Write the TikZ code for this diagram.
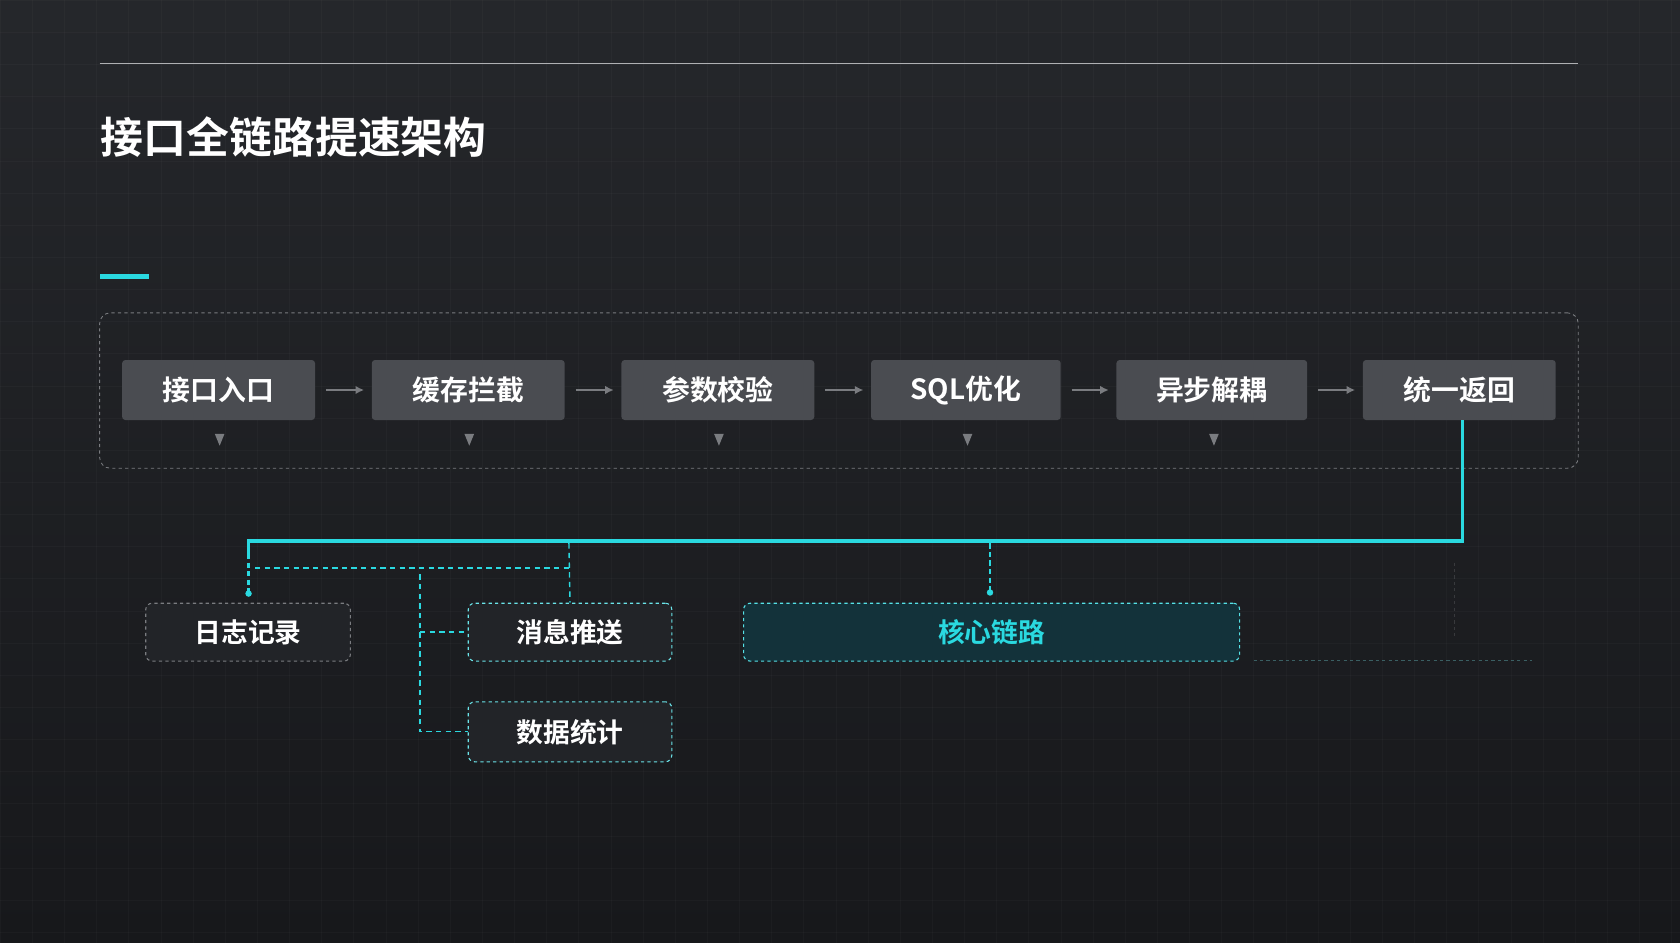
\documentclass[tikz,border=0pt]{standalone}
\usepackage{fontspec}
\setmainfont{Noto Sans CJK SC}[BoldFont={* Bold}]
\newfontfamily\cjkb{Noto Sans CJK SC Bold}
\usetikzlibrary{arrows.meta}
\definecolor{bgA}{HTML}{25272B}
\definecolor{bgB}{HTML}{17181B}
\definecolor{boxc}{HTML}{4A4C51}
\definecolor{cy}{HTML}{2AD9E0}
\definecolor{gl}{HTML}{7A7C80}
\definecolor{teal}{HTML}{13323A}
\begin{document}
\begin{tikzpicture}[x=1pt,y=-1pt,
  stepbox/.style={draw=none,fill=boxc,rounded corners=3pt,minimum width=180pt,minimum height=56pt,text=white,font=\cjkb\fontsize{26}{26}\selectfont,inner sep=0pt},
  garr/.style={draw=gl,line width=2.2pt,-{Latex[length=8pt,width=8pt]}},
  tri/.style={fill=gl,draw=none},
  sub/.style={rounded corners=6pt,dashed,line width=1pt,minimum height=54pt,text=white,font=\cjkb\fontsize{25}{25}\selectfont,inner sep=0pt,fill=bgA!80!bgB},
  cl/.style={cy,line width=1.3pt,dash pattern=on 5pt off 4pt}]
\useasboundingbox (0,0) rectangle (1568,880);
\shade[top color=bgA,bottom color=bgB] (0,0) rectangle (1568,880);
\foreach \x in {0,30,...,1568} \draw[white,opacity=0.025] (\x,0) -- (\x,880);
\foreach \y in {0,30,...,880} \draw[white,opacity=0.025] (0,\y) -- (1568,\y);
\coordinate (tl1) at (93,59); \coordinate (tl2) at (1473,59);
\draw[gl!60,line width=0.8pt] (tl1) -- (tl2);
\node[anchor=west,text=white,font=\cjkb\fontsize{40}{40}\selectfont,inner sep=0pt] (title) at (94,128) {接口全链路提速架构};
\fill[cy] (93,256) rectangle (139,260);
\node[draw=gl,dashed,rounded corners=10pt,minimum width=1380pt,minimum height=145pt,line width=0.8pt] (frame) at (783,364.5) {};
\node[stepbox] (s1) at (204,364) {接口入口};
\node[stepbox] (s2) at (437,364) {缓存拦截};
\node[stepbox] (s3) at (670,364) {参数校验};
\node[stepbox,minimum width=177pt] (s4) at (901.5,364) {SQL优化};
\node[stepbox,minimum width=178pt] (s5) at (1131,364) {异步解耦};
\node[stepbox] (s6) at (1362,364) {统一返回};
\foreach \a/\b in {s1/s2,s2/s3,s3/s4,s4/s5,s5/s6} \draw[garr] ([xshift=10pt]\a.east) -- ([xshift=-7pt]\b.west);
\foreach \x in {205,438,671,903,1133} \fill[tri] (\x-4.5,405) -- (\x+4.5,405) -- (\x,416) -- cycle;
\node[sub,draw=gl,minimum width=191pt] (log) at (231.5,590) {日志记录};
\node[sub,draw=cy!70,minimum width=190pt] (msg) at (532,590) {消息推送};
\node[sub,draw=cy!70,minimum width=190pt,minimum height=56pt] (stat) at (532,683) {数据统计};
\node[sub,draw=cy!80,fill=teal,text=cy,minimum width=463pt] (core) at (925.5,590) {核心链路};
\coordinate (j1) at (1365,505); \coordinate (j2) at (232,505);
\draw[cy,line width=3pt] (s6.south -| j1) -- (j1) -- (j2) -- ++(0,12);
\draw[cy,line width=2.5pt,dash pattern=on 5pt off 3pt] (232,517) -- (232,552);
\fill[cy] (232,554) circle (3pt);
\draw[cl] (238,530) -- (531,530);
\draw[cl] (531,507) -- (msg.north);
\draw[cl] (392,536) -- (392,683) -- (stat.west);
\draw[cl] (392,590) -- (msg.west);
\draw[cy,line width=2pt,dash pattern=on 5pt off 3pt] (924,507) -- (924,551);
\fill[cy] (924,553) circle (3pt);
\draw[cy!40!gl,opacity=0.5,dash pattern=on 3pt off 3pt] (1170,616) -- (1430,616);
\draw[gl,opacity=0.3,dash pattern=on 3pt off 3pt] (1357,525) -- (1357,595);
\end{tikzpicture}
\end{document}
